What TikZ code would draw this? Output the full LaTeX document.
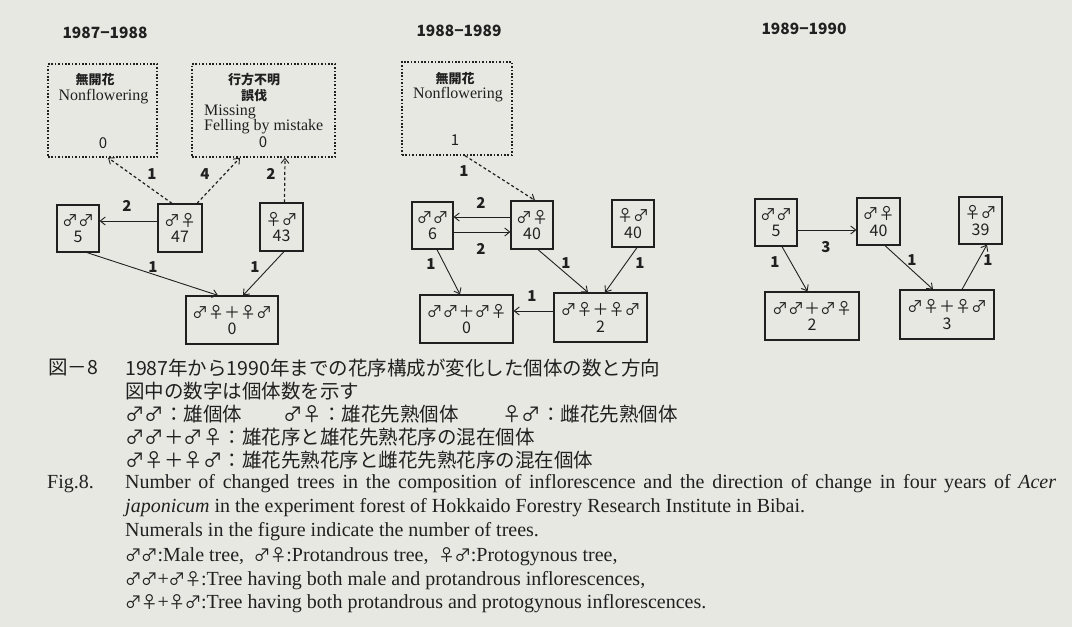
\documentclass[tikz,border=0pt]{standalone}
\usepackage{fontspec}
\setmainfont{Liberation Serif}
\newfontfamily\jp{Noto Sans CJK JP}
\usetikzlibrary{arrows.meta,calc}
\definecolor{ink}{RGB}{32,32,32}
\definecolor{paper}{RGB}{232,232,227}
\tikzset{
  cell/.style={draw=ink,line width=1.2pt,inner sep=0pt,align=center,text=ink,
    font=\jp\fontsize{16}{16.5}\selectfont},
  dbox/.style={draw=ink,line width=1.4pt,dash pattern=on 1.6pt off 1.8pt,inner sep=0pt},
  arr/.style={draw=ink,line width=0.9pt,-{Straight Barb[length=5pt,width=8pt,line width=0.9pt]}},
  darr/.style={arr,dash pattern=on 3pt off 2.5pt,line width=1.2pt},
  num/.style={text=ink,font=\jp\bfseries\fontsize{15}{15}\selectfont,inner sep=0pt},
  yr/.style={text=ink,font=\jp\bfseries\fontsize{15.5}{15.5}\selectfont,inner sep=0pt},
  jt/.style={text=ink,font=\jp\bfseries\fontsize{13}{13}\selectfont,inner sep=0pt},
  et/.style={text=ink,font=\fontsize{16}{16}\selectfont,inner sep=0pt},
  jcap/.style={text=ink,font=\jp\fontsize{19.5}{19.5}\selectfont,inner sep=0pt,anchor=west},
  ecap/.style={text=ink,font=\fontsize{20}{20}\selectfont,inner sep=0pt,anchor=west},
}
\newcommand\fw[1]{\makebox[1em][c]{#1}}
\newcommand\sym[1]{{\jp\fontsize{17}{17}\selectfont\makebox[0.95em][c]{#1}}}
\begin{document}
\begin{tikzpicture}[x=1pt,y=-1pt]
\fill[paper] (0,0) rectangle (1072,627);
\useasboundingbox (0,0) rectangle (1072,627);

% ---------- panel 1 ----------
\node[yr] (y1) at (105,33) {1987−1988};
\node[dbox,minimum width=109pt,minimum height=93pt] (p1non) at (102.5,110.5) {};
\node[jt] (p1nonj) at (95,80) {無開花};
\node[et] (p1none) at (103.5,97) {Nonflowering};
\node[num,font=\jp\fontsize{15}{15}\selectfont] (p1nonn) at (103,143) {0};
\node[dbox,minimum width=143pt,minimum height=93pt] (p1mis) at (263.5,110.5) {};
\node[jt] (p1misj1) at (254,80) {行方不明};
\node[jt] (p1misj2) at (254,96) {誤伐};
\node[et,anchor=west] (p1mise1) at (204,112) {Missing};
\node[et,anchor=west] (p1mise2) at (204,127) {Felling by mistake};
\node[num,font=\jp\fontsize{15}{15}\selectfont] (p1misn) at (263,142) {0};

\node[cell,minimum width=42pt,minimum height=47pt] (p1mm) at (78,228.5) {♂♂\\5};
\node[cell,minimum width=44pt,minimum height=48pt] (p1mf) at (180,228) {♂♀\\47};
\node[cell,minimum width=43pt,minimum height=48pt] (p1fm) at (281.5,227) {♀♂\\43};
\node[cell,minimum width=92pt,minimum height=48pt] (p1mix) at (232,320) {♂♀＋♀♂\\0};

\draw[darr] ($(p1mf.north)+(-8,0)$) -- ($(p1non.south)+(5.5,0)$);
\draw[darr] ($(p1mf.north)+(17,0)$) -- ($(p1mis.south)+(-23.5,0)$);
\draw[darr] ($(p1fm.north)+(3,0)$) -- ($(p1mis.south)+(21.5,0)$);
\draw[arr] ($(p1mf.west)+(0,-7)$) -- ($(p1mm.east)+(0,-7.5)$);
\draw[arr] ($(p1mm.south)+(9,0)$) -- ($(p1mix.north)+(-14,0)$);
\draw[arr] ($(p1fm.south)+(2.5,0)$) -- ($(p1mix.north)+(11,0)$);
\node[num] (l11) at (152,174) {1};
\node[num] (l12) at (205,174) {4};
\node[num] (l13) at (271,174) {2};
\node[num] (l14) at (127,206) {2};
\node[num] (l15) at (153,267) {1};
\node[num] (l16) at (255,267) {1};

% ---------- panel 2 ----------
\node[yr] (y2) at (459,31) {1988−1989};
\node[dbox,minimum width=110pt,minimum height=93pt] (p2non) at (457,108.5) {};
\node[jt] (p2nonj) at (455,79) {無開花};
\node[et] (p2none) at (458,95) {Nonflowering};
\node[num,font=\jp\fontsize{15}{15}\selectfont] (p2nonn) at (455,140) {1};

\node[cell,minimum width=41pt,minimum height=47pt] (p2mm) at (432.5,225.5) {♂♂\\6};
\node[cell,minimum width=42pt,minimum height=48pt] (p2mf) at (532,225) {♂♀\\40};
\node[cell,minimum width=42pt,minimum height=47pt] (p2fm) at (633,223.5) {♀♂\\40};
\node[cell,minimum width=93pt,minimum height=48pt] (p2mmx) at (466.5,319) {♂♂＋♂♀\\0};
\node[cell,minimum width=93pt,minimum height=49pt] (p2mfx) at (600.5,317.5) {♂♀＋♀♂\\2};

\draw[darr] ($(p2non.south)+(8,0)$) -- ($(p2mf.north)+(3,0)$);
\draw[arr] ($(p2mf.west)+(0,-8)$) -- ($(p2mm.east)+(0,-8.5)$);
\draw[arr] ($(p2mm.east)+(0,6.5)$) -- ($(p2mf.west)+(0,7)$);
\draw[arr] ($(p2mm.south)+(4.5,0)$) -- ($(p2mmx.north)+(-6.5,0)$);
\draw[arr] ($(p2mf.south)+(6,0)$) -- ($(p2mfx.north)+(-12.5,0)$);
\draw[arr] ($(p2fm.south)+(4,0)$) -- ($(p2mfx.north)+(4.5,0)$);
\draw[arr] ($(p2mfx.west)+(0,-6.5)$) -- ($(p2mmx.east)+(0,-8)$);
\node[num] (l21) at (464,171) {1};
\node[num] (l22) at (481,203) {2};
\node[num] (l23) at (481,249) {2};
\node[num] (l24) at (431,264) {1};
\node[num] (l25) at (566,263) {1};
\node[num] (l26) at (640,263) {1};
\node[num] (l27) at (532,296) {1};

% ---------- panel 3 ----------
\node[yr] (y3) at (804,29) {1989−1990};
\node[cell,minimum width=42pt,minimum height=47pt] (p3mm) at (776,222.5) {♂♂\\5};
\node[cell,minimum width=43pt,minimum height=47pt] (p3mf) at (878.5,221.5) {♂♀\\40};
\node[cell,minimum width=43pt,minimum height=47pt] (p3fm) at (980.5,220.5) {♀♂\\39};
\node[cell,minimum width=94pt,minimum height=48pt] (p3mmx) at (812,316) {♂♂＋♂♀\\2};
\node[cell,minimum width=94pt,minimum height=49pt] (p3mfx) at (947,314.5) {♂♀＋♀♂\\3};

\draw[arr] ($(p3mm.east)+(0,7.5)$) -- ($(p3mf.west)+(0,8.5)$);
\draw[arr] ($(p3mm.south)+(6,0)$) -- ($(p3mmx.north)+(-4.5,0)$);
\draw[arr] ($(p3mf.south)+(6.5,0)$) -- ($(p3mfx.north)+(-14,0)$);
\draw[arr] ($(p3mfx.north)+(15,0)$) -- ($(p3fm.south)+(6.5,0)$);
\node[num] (l31) at (826,247) {3};
\node[num] (l32) at (775,262) {1};
\node[num] (l33) at (912,260) {1};
\node[num] (l34) at (988,260) {1};

% ---------- caption ----------
\node[jcap] (c0) at (48,368) {図－8};
\node[jcap] (c1) at (125,368) {1987年から1990年までの花序構成が変化した個体の数と方向};
\node[jcap] (c2) at (125,391) {図中の数字は個体数を示す};
\node[jcap] (c3a) at (125,414) {\fw{♂}\fw{♂}：雄個体};
\node[jcap] (c3b) at (283,414) {\fw{♂}\fw{♀}：雄花先熟個体};
\node[jcap] (c3c) at (502,414) {\fw{♀}\fw{♂}：雌花先熟個体};
\node[jcap] (c4) at (125,437) {\fw{♂}\fw{♂}＋\fw{♂}\fw{♀}：雄花序と雄花先熟花序の混在個体};
\node[jcap] (c5) at (125,460) {\fw{♂}\fw{♀}＋\fw{♀}\fw{♂}：雄花先熟花序と雌花先熟花序の混在個体};

\node[ecap] (f0) at (47,484) {Fig.8.};
\node[ecap] (f1) at (125,484) {\makebox[931pt][s]{Number of changed trees in the composition of inflorescence and the direction of change in four years of \textit{Acer}}};
\node[ecap] (f2) at (125,508) {\textit{japonicum} in the experiment forest of Hokkaido Forestry Research Institute in Bibai.};
\node[ecap] (f3) at (125,532) {Numerals in the figure indicate the number of trees.};
\node[ecap] (f4) at (125,557) {\sym{♂}\sym{♂}:Male tree,\ \ \sym{♂}\sym{♀}:Protandrous tree,\ \ \sym{♀}\sym{♂}:Protogynous tree,};
\node[ecap] (f5) at (125,581) {\sym{♂}\sym{♂}+\sym{♂}\sym{♀}:Tree having both male and protandrous inflorescences,};
\node[ecap] (f6) at (125,604) {\sym{♂}\sym{♀}+\sym{♀}\sym{♂}:Tree having both protandrous and protogynous inflorescences.};
\end{tikzpicture}
\end{document}
